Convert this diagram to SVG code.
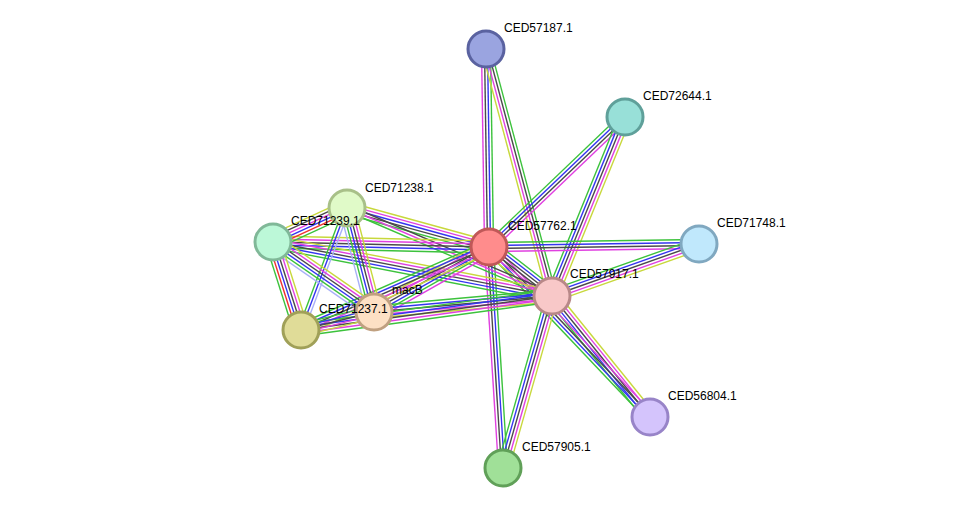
<svg xmlns="http://www.w3.org/2000/svg" width="976" height="514" viewBox="0 0 976 514">
<style>
line{stroke-width:1.4;fill:none}
.g{stroke:#3cc23c}.b{stroke:#3535f0}.m{stroke:#e040e0}.k{stroke:#4a4a4a}.y{stroke:#c8d83c}.r{stroke:#f03030}.l{stroke:#a8b0f8}
circle{stroke-width:3}
text{font-family:"Liberation Sans",Arial,sans-serif;font-size:12px;fill:#000}
</style>
<rect width="976" height="514" fill="#fff"/>
<g id="connectors">
<!-- A-E -->
<g transform="translate(486,49) rotate(89.13)"><line x2="198" y1="-4.5" y2="-4.5" class="g"/><line x2="198" y1="-1.5" y2="-1.5" class="b"/><line x2="198" y1="1.5" y2="1.5" class="k"/><line x2="198" y1="4.5" y2="4.5" class="m"/></g>
<!-- A-G -->
<g transform="translate(486,49) rotate(75.04)"><line x2="255.7" y1="-4.5" y2="-4.5" class="g"/><line x2="255.7" y1="-1.5" y2="-1.5" class="k"/><line x2="255.7" y1="1.5" y2="1.5" class="m"/><line x2="255.7" y1="4.5" y2="4.5" class="y"/></g>
<!-- B-E -->
<g transform="translate(625,117) rotate(136.29)"><line x2="188.1" y1="-4.5" y2="-4.5" class="m"/><line x2="188.1" y1="-1.5" y2="-1.5" class="k"/><line x2="188.1" y1="1.5" y2="1.5" class="b"/><line x2="188.1" y1="4.5" y2="4.5" class="g"/></g>
<!-- B-G -->
<g transform="translate(625,117) rotate(112.19)"><line x2="193.3" y1="-6" y2="-6" class="y"/><line x2="193.3" y1="-3" y2="-3" class="m"/><line x2="193.3" y1="0" y2="0" class="k"/><line x2="193.3" y1="3" y2="3" class="b"/><line x2="193.3" y1="6" y2="6" class="g"/></g>
<!-- E-F -->
<g transform="translate(489,247) rotate(-0.82)"><line x2="210" y1="-4.5" y2="-4.5" class="g"/><line x2="210" y1="-1.5" y2="-1.5" class="b"/><line x2="210" y1="1.5" y2="1.5" class="k"/><line x2="210" y1="4.5" y2="4.5" class="m"/></g>
<!-- G-F -->
<g transform="translate(552,296) rotate(-19.48)"><line x2="155.9" y1="-6" y2="-6" class="g"/><line x2="155.9" y1="-3" y2="-3" class="b"/><line x2="155.9" y1="0" y2="0" class="k"/><line x2="155.9" y1="3" y2="3" class="m"/><line x2="155.9" y1="6" y2="6" class="y"/></g>
<!-- G-J -->
<g transform="translate(552,296) rotate(51.0)"><line x2="155.7" y1="-6" y2="-6" class="y"/><line x2="155.7" y1="-3" y2="-3" class="m"/><line x2="155.7" y1="0" y2="0" class="k"/><line x2="155.7" y1="3" y2="3" class="b"/><line x2="155.7" y1="6" y2="6" class="g"/></g>
<!-- E-J -->
<g transform="translate(489,247) rotate(46.56)"><line x2="234.1" y1="-4.5" y2="-4.5" class="m"/><line x2="234.1" y1="-1.5" y2="-1.5" class="k"/><line x2="234.1" y1="1.5" y2="1.5" class="b"/><line x2="234.1" y1="4.5" y2="4.5" class="g"/></g>
<!-- E-K -->
<g transform="translate(489,247) rotate(86.38)"><line x2="221.4" y1="-4.5" y2="-4.5" class="g"/><line x2="221.4" y1="-1.5" y2="-1.5" class="b"/><line x2="221.4" y1="1.5" y2="1.5" class="k"/><line x2="221.4" y1="4.5" y2="4.5" class="m"/></g>
<!-- G-K -->
<g transform="translate(552,296) rotate(105.90)"><line x2="178.8" y1="-6" y2="-6" class="y"/><line x2="178.8" y1="-3" y2="-3" class="m"/><line x2="178.8" y1="0" y2="0" class="k"/><line x2="178.8" y1="3" y2="3" class="b"/><line x2="178.8" y1="6" y2="6" class="g"/></g>
<!-- E-G -->
<g transform="translate(489,247) rotate(37.87)"><line x2="79.8" y1="-7.5" y2="-7.5" class="g"/><line x2="79.8" y1="-4.5" y2="-4.5" class="b"/><line x2="79.8" y1="-1.5" y2="-1.5" class="k"/><line x2="79.8" y1="1.5" y2="1.5" class="k"/><line x2="79.8" y1="4.5" y2="4.5" class="m"/><line x2="79.8" y1="7.5" y2="7.5" class="y"/></g>
<!-- C-E -->
<g transform="translate(347,208) rotate(15.36)"><line x2="147.3" y1="-6" y2="-6" class="y"/><line x2="147.3" y1="-3" y2="-3" class="m"/><line x2="147.3" y1="0" y2="0" class="b"/><line x2="147.3" y1="3" y2="3" class="k"/><line x2="147.3" y1="6" y2="6" class="g"/></g>
<!-- C-G -->
<g transform="translate(347,208) rotate(23.23)"><line x2="223.1" y1="-3" y2="-3" class="k"/><line x2="223.1" y1="0" y2="0" class="m"/><line x2="223.1" y1="3" y2="3" class="g"/></g>
<!-- D-E -->
<g transform="translate(273,242) rotate(1.33)"><line x2="216.1" y1="-6" y2="-6" class="y"/><line x2="216.1" y1="-3" y2="-3" class="m"/><line x2="216.1" y1="0" y2="0" class="k"/><line x2="216.1" y1="3" y2="3" class="b"/><line x2="216.1" y1="6" y2="6" class="g"/></g>
<!-- D-G -->
<g transform="translate(273,242) rotate(10.95)"><line x2="284.2" y1="-6" y2="-6" class="y"/><line x2="284.2" y1="-3" y2="-3" class="m"/><line x2="284.2" y1="0" y2="0" class="k"/><line x2="284.2" y1="3" y2="3" class="b"/><line x2="284.2" y1="6" y2="6" class="g"/></g>
<!-- H-E -->
<g transform="translate(374,312) rotate(-29.48)"><line x2="132.1" y1="-7.5" y2="-7.5" class="y"/><line x2="132.1" y1="-4.5" y2="-4.5" class="m"/><line x2="132.1" y1="-1.5" y2="-1.5" class="k"/><line x2="132.1" y1="1.5" y2="1.5" class="b"/><line x2="132.1" y1="4.5" y2="4.5" class="g"/><line x2="132.1" y1="7.5" y2="7.5" class="m"/></g>
<!-- H-G -->
<g transform="translate(374,312) rotate(-5.14)"><line x2="178.7" y1="-6" y2="-6" class="g"/><line x2="178.7" y1="-3" y2="-3" class="b"/><line x2="178.7" y1="0" y2="0" class="k"/><line x2="178.7" y1="3" y2="3" class="m"/><line x2="178.7" y1="6" y2="6" class="y"/></g>
<!-- I-E -->
<g transform="translate(301,330) rotate(-23.82)"><line x2="205.5" y1="-6" y2="-6" class="g"/><line x2="205.5" y1="-3" y2="-3" class="b"/><line x2="205.5" y1="0" y2="0" class="k"/><line x2="205.5" y1="3" y2="3" class="m"/><line x2="205.5" y1="6" y2="6" class="y"/></g>
<!-- I-G -->
<g transform="translate(301,330) rotate(-7.71)"><line x2="253.3" y1="-6" y2="-6" class="g"/><line x2="253.3" y1="-3" y2="-3" class="b"/><line x2="253.3" y1="0" y2="0" class="k"/><line x2="253.3" y1="3" y2="3" class="m"/><line x2="253.3" y1="6" y2="6" class="g"/></g>
<!-- D-C -->
<g transform="translate(273,242) rotate(-24.68)"><line x2="81.4" y1="-7.5" y2="-7.5" class="y"/><line x2="81.4" y1="-4.5" y2="-4.5" class="k"/><line x2="81.4" y1="-1.5" y2="-1.5" class="m"/><line x2="81.4" y1="1.5" y2="1.5" class="b"/><line x2="81.4" y1="4.5" y2="4.5" class="r"/><line x2="81.4" y1="7.5" y2="7.5" class="g"/></g>
<!-- C-H -->
<g transform="translate(347,208) rotate(75.45)"><line x2="107.4" y1="-7.5" y2="-7.5" class="y"/><line x2="107.4" y1="-4.5" y2="-4.5" class="m"/><line x2="107.4" y1="-1.5" y2="-1.5" class="k"/><line x2="107.4" y1="1.5" y2="1.5" class="b"/><line x2="107.4" y1="4.5" y2="4.5" class="g"/><line x2="107.4" y1="7.5" y2="7.5" class="l"/></g>
<!-- C-I -->
<g transform="translate(347,208) rotate(110.66)"><line x2="130.4" y1="-3" y2="-3" class="l"/><line x2="130.4" y1="0" y2="0" class="b"/><line x2="130.4" y1="3" y2="3" class="g"/></g>
<!-- D-H -->
<g transform="translate(273,242) rotate(34.72)"><line x2="122.9" y1="-7.5" y2="-7.5" class="y"/><line x2="122.9" y1="-4.5" y2="-4.5" class="m"/><line x2="122.9" y1="-1.5" y2="-1.5" class="k"/><line x2="122.9" y1="1.5" y2="1.5" class="b"/><line x2="122.9" y1="4.5" y2="4.5" class="g"/><line x2="122.9" y1="7.5" y2="7.5" class="l"/></g>
<!-- D-I -->
<g transform="translate(273,242) rotate(72.35)"><line x2="92.3" y1="-7.5" y2="-7.5" class="y"/><line x2="92.3" y1="-4.5" y2="-4.5" class="m"/><line x2="92.3" y1="-1.5" y2="-1.5" class="k"/><line x2="92.3" y1="1.5" y2="1.5" class="b"/><line x2="92.3" y1="4.5" y2="4.5" class="r"/><line x2="92.3" y1="7.5" y2="7.5" class="g"/></g>
<!-- I-H -->
<g transform="translate(301,330) rotate(-13.85)"><line x2="75.2" y1="-6" y2="-6" class="g"/><line x2="75.2" y1="-3" y2="-3" class="b"/><line x2="75.2" y1="0" y2="0" class="k"/><line x2="75.2" y1="3" y2="3" class="m"/><line x2="75.2" y1="6" y2="6" class="y"/></g>
</g>
<g id="n-CED57187.1"><circle cx="486" cy="49" r="18" fill="#9aa4e0" stroke="#5a62a0"/><text x="504" y="32">CED57187.1</text></g>
<g id="n-CED72644.1"><circle cx="625" cy="117" r="18" fill="#98e0d8" stroke="#5fa09a"/><text x="643" y="100">CED72644.1</text></g>
<g id="n-CED71238.1"><circle cx="347" cy="208" r="18" fill="#e0fac8" stroke="#a8c088"/><text x="365" y="192">CED71238.1</text></g>
<g id="n-CED71239.1"><circle cx="273" cy="242" r="18" fill="#bcf8d8" stroke="#80b898"/><text x="291" y="225">CED71239.1</text></g>
<g id="n-CED57762.1"><circle cx="489" cy="247" r="18" fill="#ff8c8c" stroke="#c05858"/><text x="508" y="230">CED57762.1</text></g>
<g id="n-CED71748.1"><circle cx="699" cy="244" r="18" fill="#c0e8fc" stroke="#80a8c0"/><text x="717" y="227">CED71748.1</text></g>
<g id="n-CED57917.1"><circle cx="552" cy="296" r="18" fill="#f8c8c8" stroke="#b88888"/><text x="570" y="278">CED57917.1</text></g>
<g id="n-macB"><circle cx="374" cy="312" r="18" fill="#fde0c4" stroke="#c0a080"/><text x="392" y="294">macB</text></g>
<g id="n-CED71237.1"><circle cx="301" cy="330" r="18" fill="#e0dc98" stroke="#a0a058"/><text x="319" y="313">CED71237.1</text></g>
<g id="n-CED56804.1"><circle cx="650" cy="417" r="18" fill="#d4c4fc" stroke="#9884c8"/><text x="668" y="400">CED56804.1</text></g>
<g id="n-CED57905.1"><circle cx="503" cy="468" r="18" fill="#a0e098" stroke="#60a058"/><text x="522" y="451">CED57905.1</text></g>
</svg>
